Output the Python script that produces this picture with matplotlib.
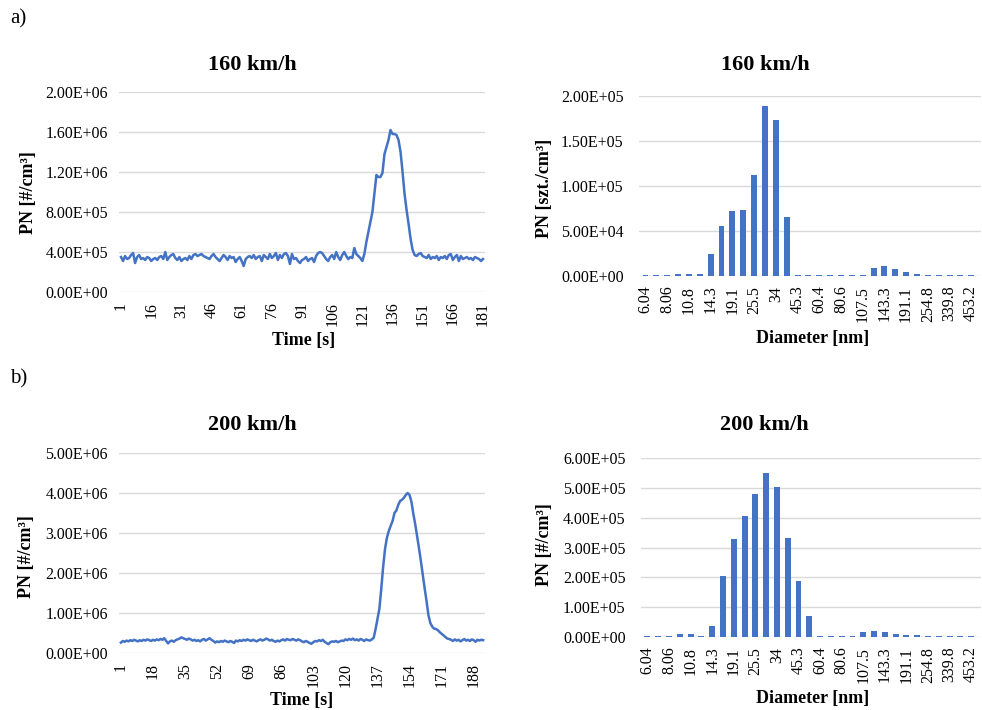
import matplotlib.pyplot as plt
from matplotlib.ticker import FuncFormatter

plt.rcParams['font.family'] = ['Liberation Serif', 'DejaVu Serif']

# ---- time series (values in 1e6 #/cm3) ----
pn160 = [
    0.35, 0.31, 0.36, 0.33, 0.34, 0.37, 0.39, 0.29, 0.35, 0.37, 0.33, 0.34, 0.32, 0.35, 0.34, 0.31, 0.33, 0.34, 0.32, 0.35,
    0.36, 0.33, 0.40, 0.32, 0.35, 0.37, 0.38, 0.34, 0.32, 0.35, 0.31, 0.33, 0.34, 0.32, 0.36, 0.33, 0.37, 0.38, 0.36, 0.37,
    0.38, 0.36, 0.35, 0.34, 0.33, 0.36, 0.38, 0.35, 0.33, 0.31, 0.34, 0.37, 0.35, 0.32, 0.36, 0.34, 0.35, 0.30, 0.33, 0.35,
    0.31, 0.26, 0.33, 0.35, 0.36, 0.34, 0.37, 0.33, 0.35, 0.36, 0.31, 0.37, 0.35, 0.33, 0.38, 0.34, 0.36, 0.39, 0.32, 0.37,
    0.34, 0.38, 0.39, 0.36, 0.28, 0.38, 0.33, 0.34, 0.31, 0.29, 0.32, 0.33, 0.35, 0.31, 0.33, 0.34, 0.30, 0.36, 0.39, 0.40,
    0.39, 0.36, 0.33, 0.31, 0.35, 0.37, 0.33, 0.40, 0.35, 0.32, 0.37, 0.40, 0.36, 0.33, 0.35, 0.34, 0.44, 0.38, 0.36,
    0.34, 0.31, 0.38, 0.50, 0.60, 0.70, 0.80, 0.98, 1.17, 1.15, 1.15, 1.19, 1.38, 1.45, 1.52, 1.62,
    1.58, 1.58, 1.57, 1.52, 1.40, 1.20, 0.98, 0.82, 0.68, 0.53, 0.42, 0.37, 0.36, 0.38, 0.39, 0.36,
    0.35, 0.34, 0.37, 0.33, 0.35, 0.34, 0.36, 0.32, 0.35, 0.34, 0.36, 0.33, 0.37, 0.38, 0.32,
    0.35, 0.37, 0.31, 0.36, 0.33, 0.34, 0.35, 0.33, 0.34, 0.32, 0.35, 0.34, 0.33, 0.31, 0.33,
]
pn200 = [
    0.26, 0.30, 0.28, 0.31, 0.29, 0.32, 0.30, 0.33, 0.31, 0.29, 0.32, 0.30, 0.33, 0.31, 0.34, 0.32, 0.30, 0.33, 0.31, 0.34,
    0.32, 0.35, 0.33, 0.37, 0.30, 0.24, 0.29, 0.31, 0.28, 0.32, 0.34, 0.36, 0.39, 0.37, 0.35, 0.33, 0.36, 0.34, 0.31, 0.33,
    0.30, 0.32, 0.29, 0.33, 0.35, 0.31, 0.34, 0.37, 0.33, 0.30, 0.26, 0.29, 0.27, 0.30, 0.28, 0.31, 0.29, 0.27, 0.30, 0.28,
    0.25, 0.31, 0.29, 0.32, 0.30, 0.33, 0.31, 0.34, 0.32, 0.30, 0.33, 0.31, 0.29, 0.32, 0.34, 0.31, 0.33, 0.36, 0.34, 0.31,
    0.33, 0.30, 0.28, 0.31, 0.29, 0.32, 0.34, 0.31, 0.35, 0.33, 0.32, 0.35, 0.33, 0.31, 0.34, 0.32, 0.29, 0.27, 0.30, 0.28,
    0.25, 0.23, 0.27, 0.30, 0.29, 0.32, 0.30, 0.33, 0.28, 0.25, 0.22, 0.27, 0.29, 0.28, 0.30, 0.27, 0.29, 0.31, 0.30, 0.34,
    0.32, 0.35, 0.33, 0.36, 0.32, 0.34, 0.31, 0.35, 0.33, 0.30, 0.34, 0.32, 0.31, 0.34,
    0.38, 0.60, 0.85, 1.10, 1.60, 2.15, 2.60, 2.88, 3.05, 3.18, 3.30, 3.50, 3.56, 3.70, 3.80, 3.83,
    3.88, 3.95, 4.00, 3.95, 3.78, 3.48, 3.22, 2.92, 2.62, 2.30, 1.95, 1.62, 1.30, 0.95, 0.75, 0.66,
    0.61, 0.60, 0.57, 0.52, 0.48, 0.44, 0.40, 0.36, 0.35, 0.33,
    0.30, 0.34, 0.31, 0.33, 0.29, 0.32, 0.35, 0.31, 0.33, 0.30, 0.34, 0.32, 0.28, 0.33, 0.31, 0.33, 0.32,
]

# ---- size distributions ----
diam = ["6.04", "6.98", "8.06", "9.31", "10.8", "12.4", "14.3", "16.5", "19.1", "22.1", "25.5",
        "29.4", "34", "39.2", "45.3", "52.3", "60.4", "69.8", "80.6", "93.1", "107.5", "124.1",
        "143.3", "165.5", "191.1", "220.7", "254.8", "294.3", "339.8", "392.4", "453.2"]
dist160 = [1300, 1300, 1500, 2200, 2500, 1800, 24000, 56000, 72600, 73300, 112600,
           189000, 173000, 65000, 1300, 1300, 1200, 1200, 1200, 1200, 1300, 8500,
           11500, 7800, 4400, 2600, 1600, 1300, 1300, 1300, 1300]
dist200 = [3500, 3500, 5000, 11000, 10500, 5000, 36000, 206000, 328000, 405000, 478000,
           551000, 502000, 331000, 187000, 69000, 3500, 3500, 3500, 3500, 17000, 20000,
           18000, 11000, 7000, 5500, 4500, 4000, 4000, 4000, 4000]

blue = "#4472C4"
grid = "#d9d9d9"
sci = FuncFormatter(lambda v, p: f"{v:.2E}")

fig = plt.figure(figsize=(9.82, 7.10), dpi=100)


def style(ax, ymax, step, ypad):
    ax.set_ylim(0, ymax)
    ax.set_yticks([step * i for i in range(int(round(ymax / step)) + 1)])
    ax.yaxis.set_major_formatter(sci)
    ax.grid(axis="y", color=grid, lw=1)
    ax.set_axisbelow(True)
    for s in ax.spines.values():
        s.set_visible(False)
    ax.tick_params(axis="both", length=0, labelsize=11.5)
    ax.tick_params(axis="y", pad=ypad)
    ax.tick_params(axis="x", pad=7)


def line_panel(rect, data, step_lbl, ymax, ystep):
    ax = fig.add_axes(rect)
    t = list(range(1, len(data) + 1))
    ax.plot(t, [v * 1e6 for v in data], color=blue, lw=1.8)
    ax.set_xlim(0, len(data) + 1)
    ticks = list(range(1, len(data) + 1, step_lbl))
    ax.set_xticks(ticks)
    ax.set_xticklabels([str(k) for k in ticks], rotation=90)
    style(ax, ymax, ystep, 8)
    return ax


def bar_panel(rect, data, ymax, ystep):
    ax = fig.add_axes(rect)
    x = list(range(len(diam)))
    ax.bar(x, data, width=0.55, color=blue)
    ax.set_xlim(-0.6, len(diam) - 0.1)
    ax.set_xticks(x[::2])
    ax.set_xticklabels(diam[::2], rotation=90)
    style(ax, ymax, ystep, 11)
    return ax


line_panel([0.1212, 0.5887, 0.3727, 0.2817], pn160, 15, 2.0e6, 0.4e6)
bar_panel([0.6507, 0.6113, 0.3483, 0.2535], dist160, 2.0e5, 0.5e5)
line_panel([0.1212, 0.0803, 0.3727, 0.2817], pn200, 17, 5.0e6, 1.0e6)
bar_panel([0.6527, 0.1028, 0.3462, 0.2521], dist200, 6.0e5, 1.0e5)

tkw = dict(fontsize=16, fontweight="bold", ha="center", va="center")
fig.text(252 / 982, 1 - 65 / 710, "160 km/h", **tkw)
fig.text(765 / 982, 1 - 65 / 710, "160 km/h", **tkw)
fig.text(252 / 982, 1 - 425 / 710, "200 km/h", **tkw)
fig.text(764 / 982, 1 - 425 / 710, "200 km/h", **tkw)

lkw = dict(fontsize=13, fontweight="bold", ha="center", va="center")
fig.text(304 / 982, 1 - 340 / 710, "Time [s]", **lkw)
fig.text(813 / 982, 1 - 338 / 710, "Diameter [nm]", **lkw)
fig.text(302 / 982, 1 - 700 / 710, "Time [s]", **lkw)
fig.text(813 / 982, 1 - 698 / 710, "Diameter [nm]", **lkw)

fig.text(29 / 982, 1 - 193 / 710, "PN [#/cm³]", rotation=90, **lkw)
fig.text(544 / 982, 1 - 188 / 710, "PN [szt./cm³]", rotation=90, **lkw)
fig.text(27 / 982, 1 - 557 / 710, "PN [#/cm³]", rotation=90, **lkw)
fig.text(544 / 982, 1 - 545 / 710, "PN [#/cm³]", rotation=90, **lkw)

fig.text(10 / 982, 1 - 19 / 710, "a)", fontsize=15, ha="left", va="center")
fig.text(10 / 982, 1 - 379 / 710, "b)", fontsize=15, ha="left", va="center")

fig.savefig("out.png", dpi=100)
